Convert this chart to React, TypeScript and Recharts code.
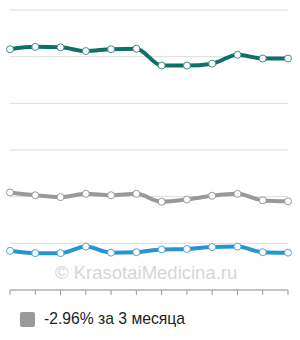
import { LineChart, Line, XAxis, YAxis, CartesianGrid } from "recharts"

// 12 замеров, подписи на оси скрыты
const months = ["1", "2", "3", "4", "5", "6", "7", "8", "9", "10", "11", "12"]
const teal = [5.16, 5.21, 5.2, 5.12, 5.16, 5.17, 4.81, 4.81, 4.85, 5.04, 4.96, 4.96]
const gray = [2.09, 2.03, 1.99, 2.06, 2.03, 2.06, 1.89, 1.94, 2.02, 2.06, 1.92, 1.9]
const blue = [0.84, 0.79, 0.79, 0.93, 0.8, 0.81, 0.87, 0.88, 0.92, 0.93, 0.81, 0.8]
const yTicks = [0, 1, 2, 3, 4, 5, 6]
const legendText = "-2.96% за 3 месяца"
const watermark = "© KrasotaiMedicina.ru"

const data = months.map((m, i) => ({ m, teal: teal[i], gray: gray[i], blue: blue[i] }))

const dot = (color: string) => ({ r: 3.5, fill: "#fff", stroke: color, strokeWidth: 1 })

export default function App() {
  return (
    <div
      style={{
        position: "fixed",
        left: 0,
        top: 0,
        width: 300,
        height: 340,
        background: "#fff",
        fontFamily: "'Liberation Sans', Arial, sans-serif",
      }}
    >
      <div
        style={{
          position: "absolute",
          left: 55,
          top: 262,
          fontSize: 18.5,
          lineHeight: "22px",
          color: "#d6d6d6",
          whiteSpace: "nowrap",
        }}
      >
        {watermark}
      </div>
      <div style={{ position: "absolute", left: 0, top: 0 }}>
        <LineChart width={300} height={340} data={data} margin={{ top: 10, right: 12, left: 10, bottom: 45 }}>
          <CartesianGrid vertical={false} stroke="#dddddd" />
          <XAxis
            dataKey="m"
            height={5}
            tickFormatter={() => ""}
            stroke="#999"
            tickLine={{ stroke: "#999" }}
            tickSize={5}
            interval={0}
          />
          <YAxis
            width={0}
            domain={[0, 6]}
            ticks={yTicks}
            tickFormatter={() => ""}
            stroke="#999"
            tickSize={5}
          />
          <Line type="monotone" dataKey="teal" stroke="#0e7067" strokeWidth={4} dot={dot("#3c8f87")} isAnimationActive={false} />
          <Line type="monotone" dataKey="gray" stroke="#999999" strokeWidth={4} dot={dot("#999999")} isAnimationActive={false} />
          <Line type="monotone" dataKey="blue" stroke="#2895d3" strokeWidth={4} dot={dot("#4aa7dc")} isAnimationActive={false} />
        </LineChart>
      </div>
      <div
        style={{
          position: "absolute",
          left: 20,
          top: 310,
          display: "flex",
          alignItems: "center",
          fontSize: 15.7,
          lineHeight: "18px",
          color: "#222",
        }}
      >
        <span style={{ width: 15, height: 15, background: "#9a9a9a", borderRadius: 2, marginRight: 9 }} />
        {legendText}
      </div>
    </div>
  )
}
